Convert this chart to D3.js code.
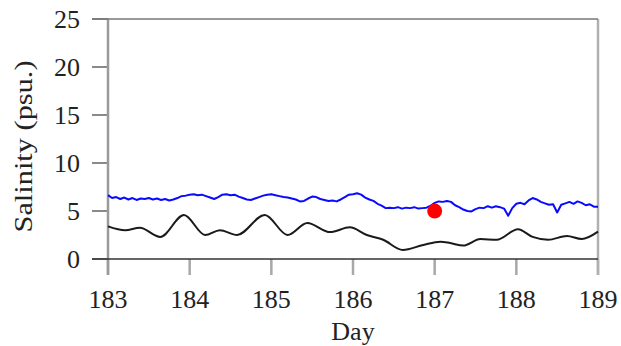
<!DOCTYPE html>
<html>
<head>
<meta charset="utf-8">
<script src="https://cdn.jsdelivr.net/npm/d3@7"></script>
<style>
  html, body { margin: 0; padding: 0; background: #fff; }
  svg { display: block; }
  text { font-family: "Liberation Serif", "DejaVu Serif", serif; fill: #222; }
</style>
</head>
<body>
<svg id="chart" width="621" height="346"></svg>
<script>
// ---- data ----
const xTicks = [183, 184, 185, 186, 187, 188, 189];
const yTicks = [0, 5, 10, 15, 20, 25];

const blackDay = [183.00, 183.21, 183.39, 183.64, 183.93, 184.19, 184.37, 184.58, 184.92, 185.20,
                  185.44, 185.72, 185.96, 186.17, 186.37, 186.61, 186.86, 187.07, 187.19, 187.35,
                  187.56, 187.76, 188.02, 188.20, 188.39, 188.62, 188.80, 189.00];
const blackSal = [3.40, 3.00, 3.25, 2.30, 4.58, 2.50, 3.00, 2.50, 4.58, 2.50,
                  3.75, 2.80, 3.30, 2.50, 2.00, 0.94, 1.46, 1.80, 1.66, 1.40,
                  2.08, 2.00, 3.10, 2.30, 2.00, 2.40, 2.08, 2.85];

const blueDay = [183.00,183.05,183.10,183.15,183.20,183.25,183.30,183.35,183.40,183.45,
                 183.50,183.55,183.60,183.65,183.70,183.75,183.80,183.85,183.90,183.95,
                 184.00,184.05,184.10,184.15,184.20,184.25,184.30,184.35,184.40,184.45,
                 184.50,184.55,184.60,184.65,184.70,184.75,184.80,184.85,184.90,184.95,
                 185.00,185.05,185.10,185.15,185.20,185.25,185.30,185.35,185.40,185.45,
                 185.50,185.55,185.60,185.65,185.70,185.75,185.80,185.85,185.90,185.95,
                 186.00,186.05,186.10,186.15,186.20,186.25,186.30,186.35,186.40,186.45,
                 186.50,186.55,186.60,186.65,186.70,186.75,186.80,186.85,186.90,186.95,
                 187.00,187.05,187.10,187.15,187.20,187.25,187.30,187.35,187.40,187.45,
                 187.50,187.55,187.60,187.65,187.70,187.75,187.80,187.85,187.90,187.95,
                 188.00,188.05,188.10,188.15,188.20,188.25,188.30,188.35,188.40,188.45,
                 188.50,188.55,188.60,188.65,188.70,188.75,188.80,188.85,188.90,188.95,
                 189.00];
const blueSal = [6.65,6.35,6.45,6.25,6.40,6.20,6.35,6.15,6.30,6.25,
                 6.35,6.20,6.30,6.15,6.25,6.10,6.20,6.35,6.55,6.60,
                 6.70,6.75,6.65,6.70,6.55,6.40,6.25,6.45,6.70,6.75,
                 6.65,6.70,6.50,6.35,6.20,6.15,6.30,6.45,6.60,6.70,
                 6.75,6.65,6.55,6.45,6.40,6.30,6.20,6.00,6.05,6.30,
                 6.50,6.45,6.25,6.15,6.05,6.10,6.00,6.20,6.45,6.70,
                 6.75,6.85,6.70,6.40,6.20,6.05,5.75,5.55,5.30,5.35,
                 5.30,5.40,5.25,5.35,5.30,5.40,5.25,5.30,5.35,5.55,
                 5.85,6.00,5.95,6.05,5.95,5.60,5.40,5.15,5.00,4.95,
                 5.20,5.35,5.30,5.50,5.35,5.50,5.40,5.25,4.50,5.30,
                 5.75,5.85,5.70,6.10,6.35,6.20,5.95,5.80,5.65,5.70,
                 4.85,5.65,5.80,5.95,5.75,6.00,5.85,5.60,5.70,5.45,
                 5.45];

const pointDay = [187];
const pointSal = [5.0];

// ---- drawing ----
const svg = d3.select("#chart");
const x = d3.scaleLinear().domain([183, 189]).range([108, 598]);
const y = d3.scaleLinear().domain([0, 25]).range([259, 19]);
const tickLen = 16;

const [x0, x1] = x.range();
const [yb, yt] = y.range();

// tick marks
svg.append("g").selectAll("line").data(yTicks).join("line")
  .attr("x1", x0 - tickLen).attr("x2", x0)
  .attr("y1", d => y(d)).attr("y2", d => y(d))
  .attr("stroke", "#8a8a8a").attr("stroke-width", 2);
svg.append("g").selectAll("line").data(xTicks).join("line")
  .attr("x1", d => x(d)).attr("x2", d => x(d))
  .attr("y1", yb).attr("y2", yb + tickLen)
  .attr("stroke", "#a8a8a8").attr("stroke-width", 2.5);

// frame
svg.append("line").attr("x1", x0).attr("x2", x0).attr("y1", yt).attr("y2", yb + tickLen)
  .attr("stroke", "#9a9a9a").attr("stroke-width", 2.5);
svg.append("line").attr("x1", x1).attr("x2", x1).attr("y1", yt).attr("y2", yb + tickLen)
  .attr("stroke", "#b0b0b0").attr("stroke-width", 2.5);
svg.append("line").attr("x1", x0 - tickLen).attr("x2", x1).attr("y1", yt).attr("y2", yt)
  .attr("stroke", "#777").attr("stroke-width", 1.5);
svg.append("line").attr("x1", x0 - tickLen).attr("x2", x1).attr("y1", yb).attr("y2", yb)
  .attr("stroke", "#333").attr("stroke-width", 1.5);

// tick labels
svg.append("g").selectAll("text").data(yTicks).join("text")
  .attr("x", 80).attr("y", d => y(d)).attr("dy", "0.34em")
  .attr("text-anchor", "end").attr("font-size", 26).text(d => d);
svg.append("g").selectAll("text").data(xTicks).join("text")
  .attr("x", d => x(d)).attr("y", 308)
  .attr("text-anchor", "middle").attr("font-size", 26).text(d => d);

// axis titles
svg.append("text").attr("x", (x0 + x1) / 2).attr("y", 340)
  .attr("text-anchor", "middle").attr("font-size", 26).text("Day");
svg.append("text").attr("transform", "translate(32,146.5) rotate(-90)")
  .attr("text-anchor", "middle").attr("font-size", 26)
  .attr("textLength", 172).attr("lengthAdjust", "spacingAndGlyphs")
  .text("Salinity (psu.)");

// lines
const blackData = blackDay.map((d, i) => [d, blackSal[i]]);
const blueData = blueDay.map((d, i) => [d, blueSal[i]]);

const smoothLine = d3.line().x(d => x(d[0])).y(d => y(d[1])).curve(d3.curveMonotoneX);
const rawLine = d3.line().x(d => x(d[0])).y(d => y(d[1]));

svg.append("path").datum(blackData)
  .attr("fill", "none").attr("stroke", "#1a1a1a").attr("stroke-width", 2)
  .attr("d", smoothLine);

svg.append("path").datum(blueData)
  .attr("fill", "none").attr("stroke", "#0a0aff").attr("stroke-width", 2)
  .attr("stroke-linejoin", "round")
  .attr("d", rawLine);

svg.append("g").selectAll("circle").data(pointDay).join("circle")
  .attr("cx", d => x(d)).attr("cy", (d, i) => y(pointSal[i])).attr("r", 7.5)
  .attr("fill", "#ff0000");
</script>
</body>
</html>
